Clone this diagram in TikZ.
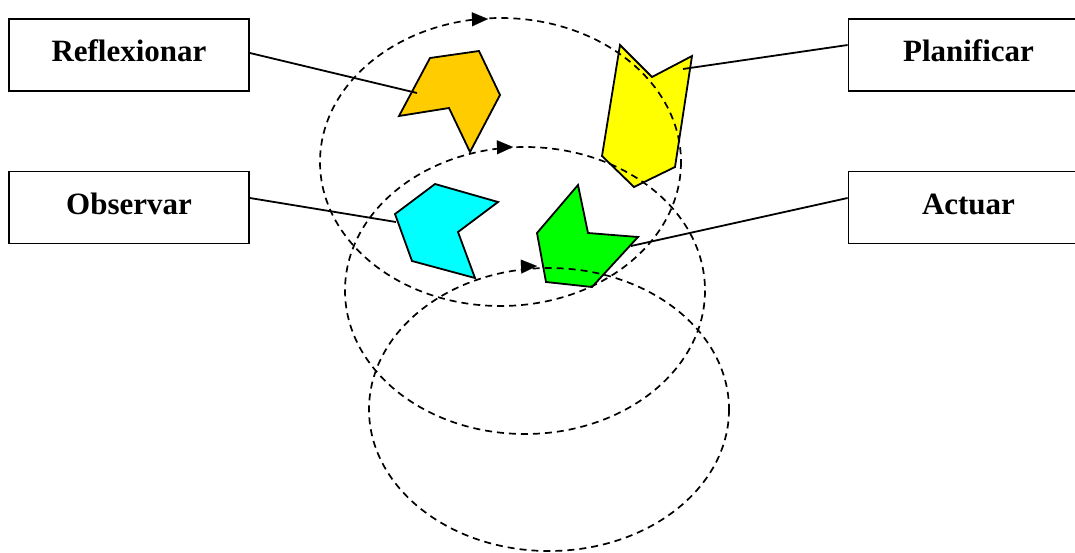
\documentclass[tikz,border=0pt]{standalone}
\usepackage{fontspec}
\setmainfont{Liberation Serif}
\usetikzlibrary{arrows.meta}
\definecolor{cOrange}{HTML}{FFCC00}
\definecolor{cYellow}{HTML}{FFFF00}
\definecolor{cCyan}{HTML}{00FFFF}
\definecolor{cGreen}{HTML}{00FF00}
\tikzset{
  labelbox/.style={draw, line width=1.8pt, minimum width=240pt, minimum height=72pt, inner sep=0pt,
    text height=22pt, text depth=9pt,
    font=\bfseries\fontsize{31}{36}\selectfont},
  piece/.style={draw, line width=1.8pt, line join=miter},
  cycleline/.style={line width=1.7pt, dash pattern=on 7pt off 5pt},
  tipmark/.style={-{Triangle[length=16pt,width=14pt]}, line width=0.1pt},
  link/.style={line width=1.8pt}
}
\begin{document}
\begin{tikzpicture}[x=1pt,y=-1pt]
\useasboundingbox (0,0) rectangle (1075,552);
% pieces
\draw[piece, fill=cOrange] (430,58) -- (479,51) -- (500,95) -- (470,152) -- (449,108) -- (399,116) -- cycle;
\draw[piece, fill=cYellow] (620,45) -- (652,77) -- (692,56) -- (675,167) -- (634,187) -- (602,156) -- cycle;
\draw[piece, fill=cCyan] (435,184) -- (498,202) -- (458,232) -- (475,278) -- (412,261) -- (395,214) -- cycle;
\draw[piece, fill=cGreen] (578,185) -- (588,233) -- (638,237) -- (592,287) -- (546,282) -- (537,233) -- cycle;
% cycles
\draw[cycleline] (500.5,162) ellipse [x radius=180.5, y radius=144];
\draw[cycleline] (525,290.5) ellipse [x radius=180, y radius=143.5];
\draw[cycleline] (549,409.5) ellipse [x radius=180, y radius=141.5];
\coordinate (a1s) at (472,19.3);
\coordinate (a1e) at (488,19);
\coordinate (a2s) at (497,147.3);
\coordinate (a2e) at (513,147);
\coordinate (a3s) at (521,266.6);
\coordinate (a3e) at (537,266);
\draw[tipmark] (a1s) -- (a1e);
\draw[tipmark] (a2s) -- (a2e);
\draw[tipmark] (a3s) -- (a3e);
% boxes
\node[labelbox] (refl) at (129,55) {Reflexionar};
\node[labelbox] (plan) at (968.5,55) {Planificar};
\node[labelbox] (obs) at (129,207.5) {Observar};
\node[labelbox] (act) at (968.5,207.5) {Actuar};
% connector ends
\coordinate (reflEnd) at (417,93);
\coordinate (planEnd) at (683,69);
\coordinate (obsEnd) at (396,222);
\coordinate (actEnd) at (631,246);
\draw[link] (refl.east |- 0,53) -- (reflEnd);
\draw[link] (plan.west |- 0,45) -- (planEnd);
\draw[link] (obs.east |- 0,198) -- (obsEnd);
\draw[link] (act.west |- 0,198) -- (actEnd);
\end{tikzpicture}
\end{document}
